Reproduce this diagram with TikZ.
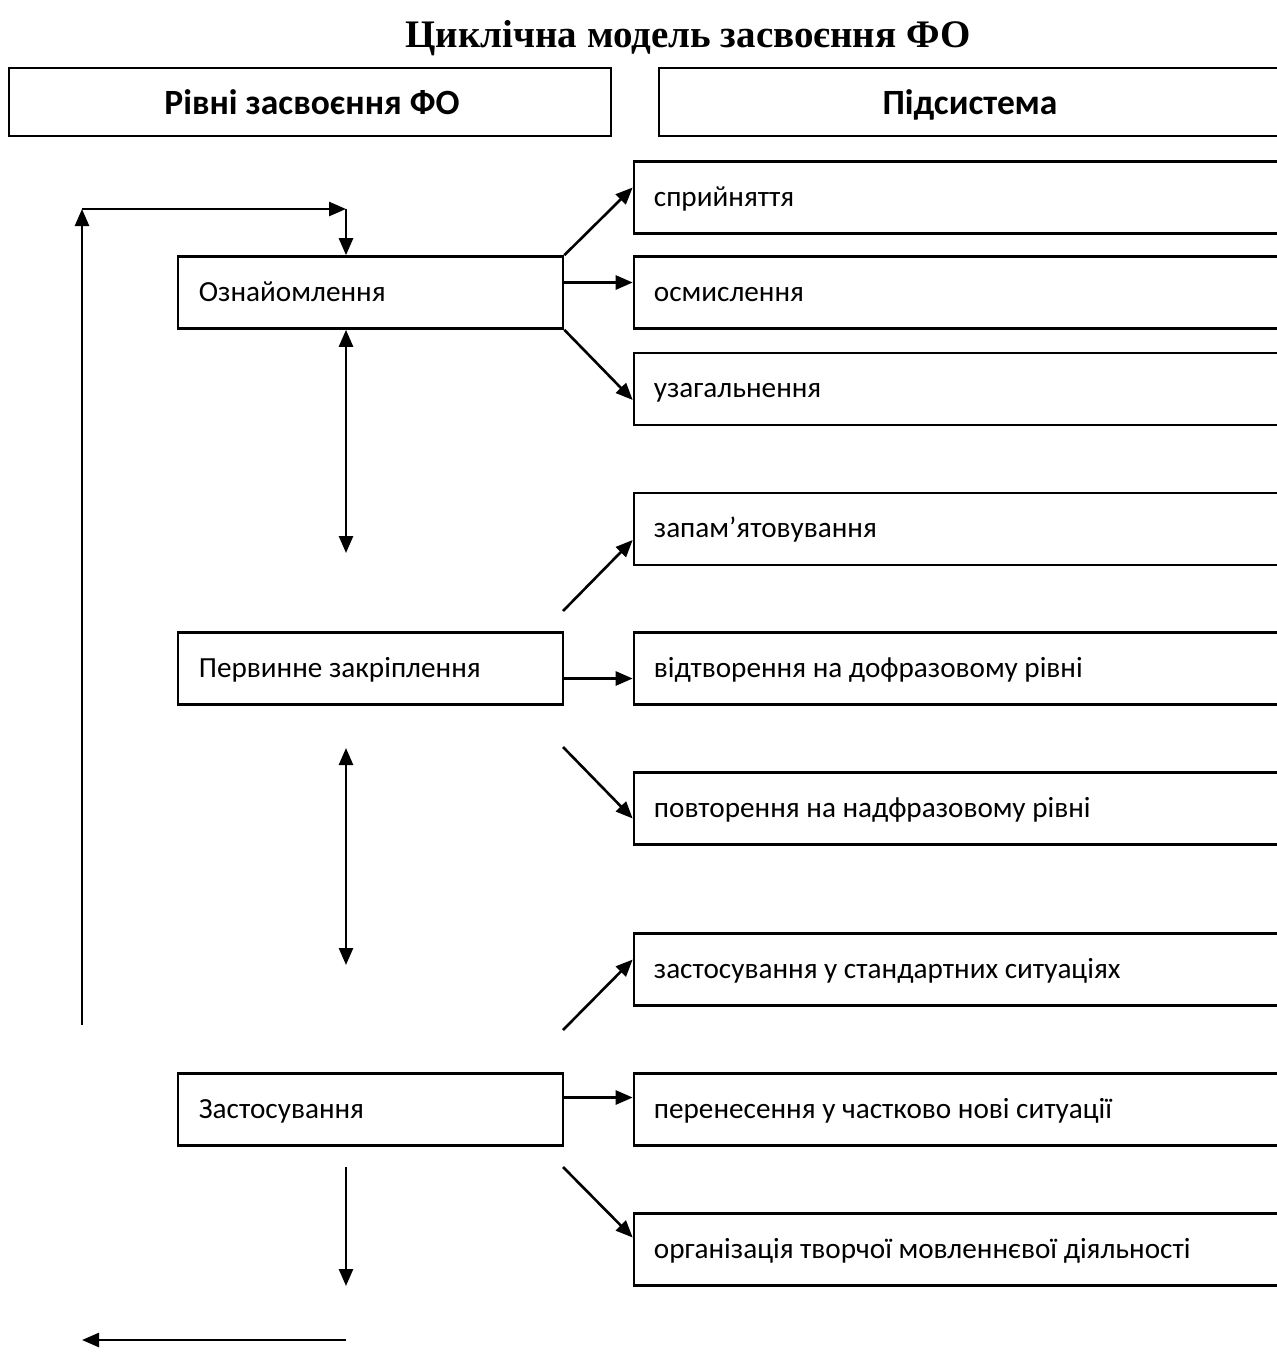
\documentclass[tikz,border=0pt]{standalone}
\usepackage{fontspec}
\setmainfont{Carlito}
\newfontfamily\titlefont{Liberation Serif}
\usetikzlibrary{arrows.meta}
\tikzset{
  tip/.tip={Triangle[length=17pt,width=14pt]},
  arr/.style={line width=2.6pt,-tip},
  darr/.style={line width=2.6pt,tip-tip},
  lbox/.style={draw,line width=2.6pt,minimum width=385pt,minimum height=72pt,inner sep=0pt},
  rbox/.style={draw,line width=2.6pt,minimum width=660pt,minimum height=72pt,inner sep=0pt},
  hbox/.style={draw,line width=2.6pt,minimum height=68pt,inner sep=0pt},
  txt/.style={anchor=base west,inner sep=0pt,font=\fontsize{29.2}{30}\selectfont},
  htxt/.style={anchor=base,inner sep=0pt,font=\bfseries\fontsize{35.5}{38}\selectfont},
}
\begin{document}
\begin{tikzpicture}[x=1pt,y=-1pt]
\clip (0,0) rectangle (1277,1358);
\fill[white] (0,0) rectangle (1277,1358);
% title
\node[anchor=base,inner sep=0pt,font=\titlefont\bfseries\fontsize{39}{42}\selectfont] (title) at (688,47) {Циклічна модель засвоєння ФО};
% header boxes
\node[hbox,minimum width=602pt] (h1) at (310,102) {};
\node[htxt] (h1t) at (312,114) {Рівні засвоєння ФО};
\node[hbox,minimum width=640pt] (h2) at (979,102) {};
\node[htxt] (h2t) at (970,114) {Підсистема};
% level boxes
\node[lbox] (oz) at (370.5,292.5) {};
\node[txt] (ozt) at ([xshift=22pt,yshift=-8.5pt]oz.west) {Ознайомлення};
\node[lbox] (pz) at (370.5,668.5) {};
\node[txt] (pzt) at ([xshift=22pt,yshift=-8.5pt]pz.west) {Первинне закріплення};
\node[lbox] (zs) at (370.5,1109.5) {};
\node[txt] (zst) at ([xshift=22pt,yshift=-8.5pt]zs.west) {Застосування};
% subsystem boxes
\node[rbox] (r1) at (964,197.5) {};
\node[txt] (r1t) at ([xshift=21pt,yshift=-8.5pt]r1.west) {сприйняття};
\node[rbox] (r2) at (964,292.5) {};
\node[txt] (r2t) at ([xshift=21pt,yshift=-8.5pt]r2.west) {осмислення};
\node[rbox] (r3) at (964,389) {};
\node[txt] (r3t) at ([xshift=21pt,yshift=-8.5pt]r3.west) {узагальнення};
\node[rbox] (r4) at (964,529) {};
\node[txt] (r4t) at ([xshift=21pt,yshift=-8.5pt]r4.west) {запам’ятовування};
\node[rbox] (r5) at (964,668.5) {};
\node[txt] (r5t) at ([xshift=21pt,yshift=-8.5pt]r5.west) {відтворення на дофразовому рівні};
\node[rbox] (r6) at (964,808.5) {};
\node[txt] (r6t) at ([xshift=21pt,yshift=-8.5pt]r6.west) {повторення на надфразовому рівні};
\node[rbox] (r7) at (964,969.5) {};
\node[txt] (r7t) at ([xshift=21pt,yshift=-8.5pt]r7.west) {застосування у стандартних ситуаціях};
\node[rbox] (r8) at (964,1109.5) {};
\node[txt] (r8t) at ([xshift=21pt,yshift=-8.5pt]r8.west) {перенесення у частково нові ситуації};
\node[rbox] (r9) at (964,1249.5) {};
\node[txt] (r9t) at ([xshift=21pt,yshift=-8.5pt]r9.west) {організація творчої мовленнєвої діяльності};
% coordinates
\coordinate (lb) at (82,1025);
\coordinate (lt) at (82,209);
\coordinate (rt) at (346,209);
\coordinate (d1) at (346,553);
\coordinate (d2a) at (346,748);
\coordinate (d2b) at (346,965);
\coordinate (d3a) at (346,1167);
\coordinate (d3b) at (346,1286);
\coordinate (bb) at (346,1340);
\coordinate (bl) at (82,1340);
\coordinate (p1) at (563,611);
\coordinate (p2) at (563,747);
\coordinate (z1) at (563,1030);
\coordinate (z2) at (563,1167);
% loop
\draw[arr] (lb) -- (lt);
\draw[arr] (lt) -- (rt);
\draw[arr] (rt) -- (rt |- oz.north);
\draw[darr] (d1 |- oz.south) -- (d1);
\draw[darr] (d2a) -- (d2b);
\draw[arr] (d3a) -- (d3b);
\draw[arr] (bb) -- (bl);
% subsystem arrows
\draw[arr] (oz.north east) -- ([yshift=10pt]r1.west);
\draw[arr] ([yshift=10pt]oz.east) -- ([yshift=10pt]r2.west);
\draw[arr] (oz.south east) -- ([yshift=-11pt]r3.west);
\draw[arr] (p1) -- ([yshift=-11pt]r4.west);
\draw[arr] ([yshift=-10pt]pz.east) -- ([yshift=-10pt]r5.west);
\draw[arr] (p2) -- ([yshift=-10pt]r6.west);
\draw[arr] (z1) -- ([yshift=10pt]r7.west);
\draw[arr] ([yshift=12pt]zs.east) -- ([yshift=12pt]r8.west);
\draw[arr] (z2) -- ([yshift=12pt]r9.west);
\end{tikzpicture}
\end{document}
